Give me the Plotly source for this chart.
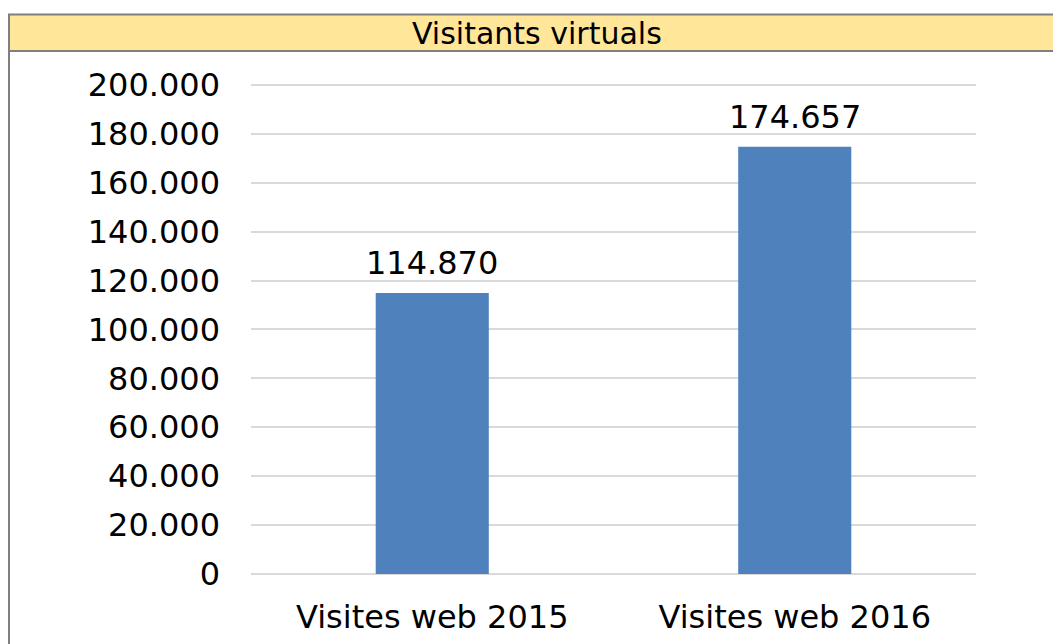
import plotly.graph_objects as go

categories = ["Visites web 2015", "Visites web 2016"]
values = [114870, 174657]
title_text = "Visitants virtuals"

W, H = 1053, 644
L, R, T, B = 251, 976, 80, 574

def fmt(v):
    return f"{v:,}".replace(",", ".")

FONT = "DejaVu Sans, Verdana, sans-serif"

fig = go.Figure(go.Bar(
    x=categories, y=values,
    marker=dict(color="#4F81BD", line=dict(width=0)),
    width=0.312,
    hoverinfo="skip",
))

for c, v in zip(categories, values):
    fig.add_annotation(x=c, y=v, xref="x", yref="y", text=fmt(v),
                       showarrow=False, yanchor="bottom", yshift=9,
                       font=dict(family=FONT, size=32, color="#000000"))

pw = R - L
ph = B - T
def px(xp):
    return (xp - L) / pw
def py(yp):
    return (B - yp) / ph

shapes = [
    dict(type="rect", xref="paper", yref="paper", x0=px(9), x1=px(1070),
         y0=py(51), y1=py(14.5), fillcolor="#FFE699",
         line=dict(color="#7F7F7F", width=2), layer="below"),
    dict(type="line", xref="paper", yref="paper", x0=px(9), x1=px(9),
         y0=py(14.5), y1=py(700), line=dict(color="#7F7F7F", width=2)),
]

fig.add_annotation(xref="paper", yref="paper", x=px(537), y=py(33),
                   text=title_text, showarrow=False, xanchor="center", yanchor="middle",
                   font=dict(family=FONT, size=30, color="#000000"))

fig.update_layout(
    width=W, height=H,
    margin=dict(l=L, r=W - R, t=T, b=H - B, pad=0, autoexpand=False),
    paper_bgcolor="white", plot_bgcolor="white",
    separators=",.",
    showlegend=False,
    shapes=shapes,
    font=dict(family=FONT, size=32, color="#000000"),
    xaxis=dict(showgrid=False, showline=False, ticks="", zeroline=False,
               automargin=False,
               tickfont=dict(family=FONT, size=32, color="#000000"),
               ticklabelstandoff=21),
    yaxis=dict(range=[0, 202000], tickvals=list(range(0, 200001, 20000)),
               tickformat=",.0f", showgrid=True, gridcolor="#D9D9D9", gridwidth=2,
               zeroline=True, zerolinecolor="#D9D9D9", zerolinewidth=2,
               showline=False, ticks="", automargin=False,
               tickfont=dict(family=FONT, size=32, color="#000000"),
               ticklabelstandoff=30),
)

fig.write_html("out.html",
               config={"displayModeBar": False, "staticPlot": True},
               post_script="document.body.style.margin='0';document.body.style.overflow='hidden';")
